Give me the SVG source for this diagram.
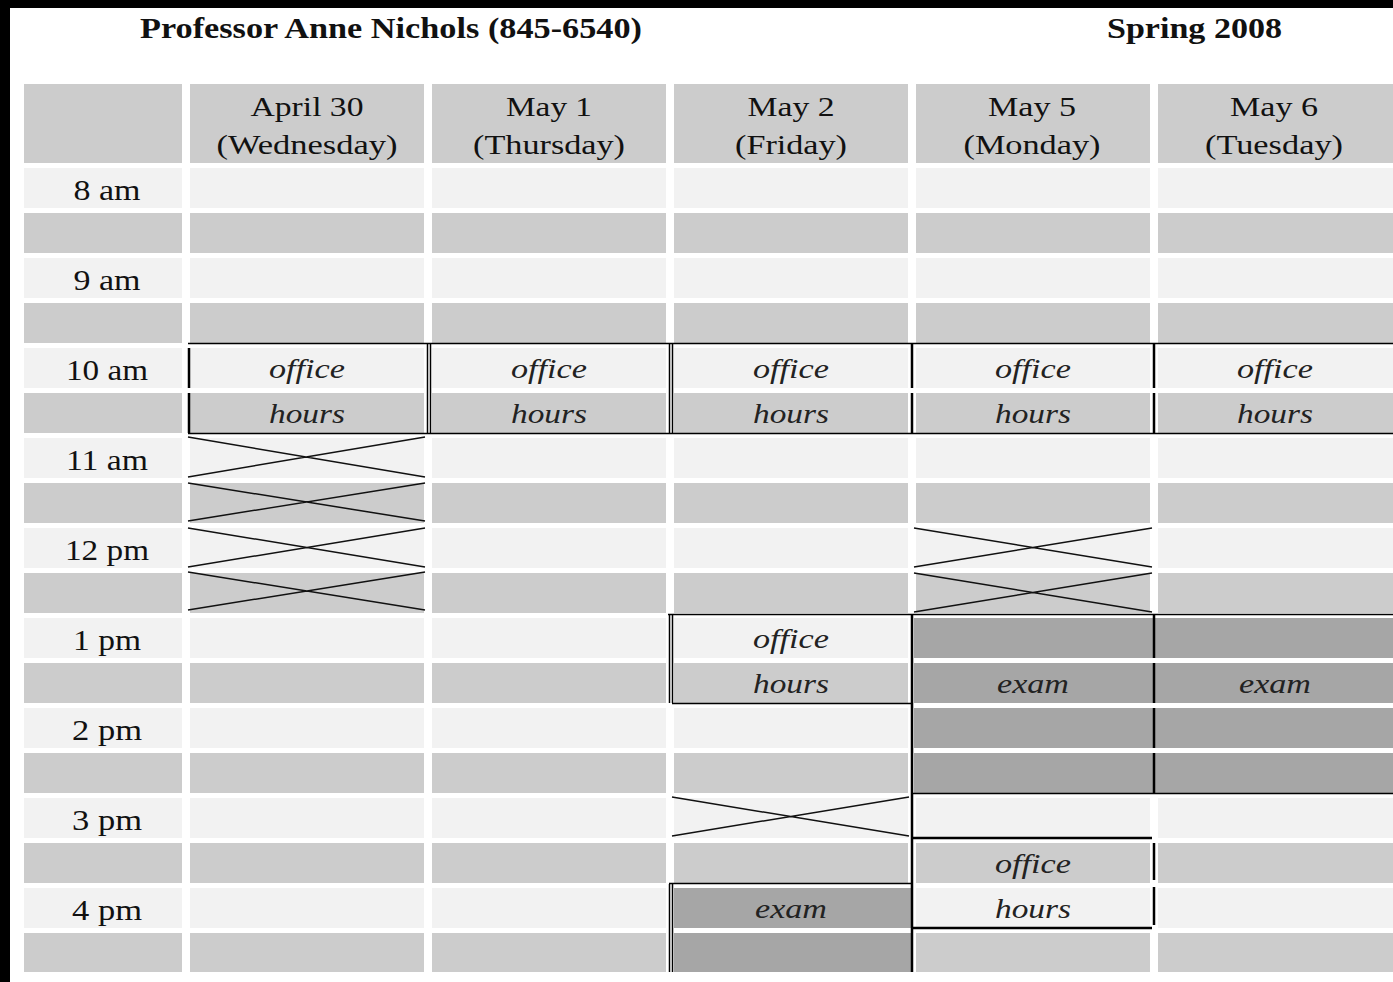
<svg xmlns="http://www.w3.org/2000/svg" width="1393" height="982" viewBox="0 0 1393 982">
<defs>
<style>
.l{fill:#f2f2f2}
.g{fill:#cccccc}
.d{fill:#a6a6a6}
.t{font-family:"Liberation Serif","Times New Roman",serif;fill:#111}
.title{font-size:30px;font-weight:bold}
.hd{font-size:28px;text-anchor:middle}
.tm{font-size:30px;text-anchor:middle}
.it{font-family:"Liberation Serif","Times New Roman",serif;font-style:italic;font-size:28px;text-anchor:middle;fill:#222}
.ln{stroke:#000;fill:none;stroke-width:1.5}
.th{stroke:#000;fill:none;stroke-width:2.5}
.x{stroke:#111;fill:none;stroke-width:1.5}
</style>
</defs>
<rect x="0" y="0" width="1393" height="982" fill="#ffffff"/>
<rect x="0" y="0" width="1393" height="8" fill="#000"/>
<rect x="0" y="0" width="10" height="982" fill="#000"/>

<g id="title">
<text class="t title" x="140" y="38" textLength="502" lengthAdjust="spacingAndGlyphs">Professor Anne Nichols (845-6540)</text>
<text class="t title" x="1107" y="38" textLength="175" lengthAdjust="spacingAndGlyphs">Spring 2008</text>
</g>

<g id="header">
<rect class="g" x="24" y="84" width="158" height="79"/>
<rect class="g" x="190" y="84" width="234" height="79"/>
<rect class="g" x="432" y="84" width="234" height="79"/>
<rect class="g" x="674" y="84" width="234" height="79"/>
<rect class="g" x="916" y="84" width="234" height="79"/>
<rect class="g" x="1158" y="84" width="235" height="79"/>
<text class="t hd" x="307" y="116" textLength="113" lengthAdjust="spacingAndGlyphs">April 30</text>
<text class="t hd" x="307" y="154" textLength="181" lengthAdjust="spacingAndGlyphs">(Wednesday)</text>
<text class="t hd" x="549" y="116" textLength="86" lengthAdjust="spacingAndGlyphs">May 1</text>
<text class="t hd" x="549" y="154" textLength="152" lengthAdjust="spacingAndGlyphs">(Thursday)</text>
<text class="t hd" x="791" y="116" textLength="87" lengthAdjust="spacingAndGlyphs">May 2</text>
<text class="t hd" x="791" y="154" textLength="112" lengthAdjust="spacingAndGlyphs">(Friday)</text>
<text class="t hd" x="1032" y="116" textLength="88" lengthAdjust="spacingAndGlyphs">May 5</text>
<text class="t hd" x="1032" y="154" textLength="137" lengthAdjust="spacingAndGlyphs">(Monday)</text>
<text class="t hd" x="1274" y="116" textLength="88" lengthAdjust="spacingAndGlyphs">May 6</text>
<text class="t hd" x="1274" y="154" textLength="138" lengthAdjust="spacingAndGlyphs">(Tuesday)</text>
</g>

<g id="grid">
<g class="l">
<rect x="24" y="168" width="158" height="40"/><rect x="190" y="168" width="234" height="40"/><rect x="432" y="168" width="234" height="40"/><rect x="674" y="168" width="234" height="40"/><rect x="916" y="168" width="234" height="40"/><rect x="1158" y="168" width="235" height="40"/>
<rect x="24" y="258" width="158" height="40"/><rect x="190" y="258" width="234" height="40"/><rect x="432" y="258" width="234" height="40"/><rect x="674" y="258" width="234" height="40"/><rect x="916" y="258" width="234" height="40"/><rect x="1158" y="258" width="235" height="40"/>
<rect x="24" y="348" width="158" height="40"/><rect x="190" y="348" width="234" height="40"/><rect x="432" y="348" width="234" height="40"/><rect x="674" y="348" width="234" height="40"/><rect x="916" y="348" width="234" height="40"/><rect x="1158" y="348" width="235" height="40"/>
<rect x="24" y="438" width="158" height="40"/><rect x="190" y="438" width="234" height="40"/><rect x="432" y="438" width="234" height="40"/><rect x="674" y="438" width="234" height="40"/><rect x="916" y="438" width="234" height="40"/><rect x="1158" y="438" width="235" height="40"/>
<rect x="24" y="528" width="158" height="40"/><rect x="190" y="528" width="234" height="40"/><rect x="432" y="528" width="234" height="40"/><rect x="674" y="528" width="234" height="40"/><rect x="916" y="528" width="234" height="40"/><rect x="1158" y="528" width="235" height="40"/>
<rect x="24" y="618" width="158" height="40"/><rect x="190" y="618" width="234" height="40"/><rect x="432" y="618" width="234" height="40"/><rect x="674" y="618" width="234" height="40"/>
<rect x="24" y="708" width="158" height="40"/><rect x="190" y="708" width="234" height="40"/><rect x="432" y="708" width="234" height="40"/><rect x="674" y="708" width="234" height="40"/>
<rect x="24" y="798" width="158" height="40"/><rect x="190" y="798" width="234" height="40"/><rect x="432" y="798" width="234" height="40"/><rect x="674" y="798" width="234" height="40"/><rect x="916" y="798" width="234" height="40"/><rect x="1158" y="798" width="235" height="40"/>
<rect x="24" y="888" width="158" height="40"/><rect x="190" y="888" width="234" height="40"/><rect x="432" y="888" width="234" height="40"/><rect x="916" y="888" width="234" height="40"/><rect x="1158" y="888" width="235" height="40"/>
</g>
<g class="g">
<rect x="24" y="213" width="158" height="40"/><rect x="190" y="213" width="234" height="40"/><rect x="432" y="213" width="234" height="40"/><rect x="674" y="213" width="234" height="40"/><rect x="916" y="213" width="234" height="40"/><rect x="1158" y="213" width="235" height="40"/>
<rect x="24" y="303" width="158" height="40"/><rect x="190" y="303" width="234" height="40"/><rect x="432" y="303" width="234" height="40"/><rect x="674" y="303" width="234" height="40"/><rect x="916" y="303" width="234" height="40"/><rect x="1158" y="303" width="235" height="40"/>
<rect x="24" y="393" width="158" height="40"/><rect x="190" y="393" width="234" height="40"/><rect x="432" y="393" width="234" height="40"/><rect x="674" y="393" width="234" height="40"/><rect x="916" y="393" width="234" height="40"/><rect x="1158" y="393" width="235" height="40"/>
<rect x="24" y="483" width="158" height="40"/><rect x="190" y="483" width="234" height="40"/><rect x="432" y="483" width="234" height="40"/><rect x="674" y="483" width="234" height="40"/><rect x="916" y="483" width="234" height="40"/><rect x="1158" y="483" width="235" height="40"/>
<rect x="24" y="573" width="158" height="40"/><rect x="190" y="573" width="234" height="40"/><rect x="432" y="573" width="234" height="40"/><rect x="674" y="573" width="234" height="40"/><rect x="916" y="573" width="234" height="40"/><rect x="1158" y="573" width="235" height="40"/>
<rect x="24" y="663" width="158" height="40"/><rect x="190" y="663" width="234" height="40"/><rect x="432" y="663" width="234" height="40"/><rect x="674" y="663" width="234" height="40"/>
<rect x="24" y="753" width="158" height="40"/><rect x="190" y="753" width="234" height="40"/><rect x="432" y="753" width="234" height="40"/><rect x="674" y="753" width="234" height="40"/>
<rect x="24" y="843" width="158" height="40"/><rect x="190" y="843" width="234" height="40"/><rect x="432" y="843" width="234" height="40"/><rect x="674" y="843" width="234" height="40"/><rect x="916" y="843" width="234" height="40"/><rect x="1158" y="843" width="235" height="40"/>
<rect x="24" y="933" width="158" height="39"/><rect x="190" y="933" width="234" height="39"/><rect x="432" y="933" width="234" height="39"/><rect x="916" y="933" width="234" height="39"/><rect x="1158" y="933" width="235" height="39"/>
</g>
<g class="d">
<rect x="914" y="618" width="479" height="40"/><rect x="914" y="663" width="479" height="40"/><rect x="914" y="708" width="479" height="40"/><rect x="914" y="753" width="479" height="40"/>
<rect x="674" y="888" width="238" height="40"/><rect x="674" y="933" width="238" height="39"/>
</g>
</g>

<g id="times">
<text class="t tm" x="107" y="200" textLength="67" lengthAdjust="spacingAndGlyphs">8 am</text>
<text class="t tm" x="107" y="290" textLength="67" lengthAdjust="spacingAndGlyphs">9 am</text>
<text class="t tm" x="107" y="380" textLength="82" lengthAdjust="spacingAndGlyphs">10 am</text>
<text class="t tm" x="107" y="470" textLength="82" lengthAdjust="spacingAndGlyphs">11 am</text>
<text class="t tm" x="107" y="560" textLength="84" lengthAdjust="spacingAndGlyphs">12 pm</text>
<text class="t tm" x="107" y="650" textLength="68" lengthAdjust="spacingAndGlyphs">1 pm</text>
<text class="t tm" x="107" y="740" textLength="70" lengthAdjust="spacingAndGlyphs">2 pm</text>
<text class="t tm" x="107" y="830" textLength="70" lengthAdjust="spacingAndGlyphs">3 pm</text>
<text class="t tm" x="107" y="920" textLength="70" lengthAdjust="spacingAndGlyphs">4 pm</text>
</g>

<g id="office-hours-10am">
<path class="ln" d="M188 343.5H1393M188 433.5H1393"/>
<path class="th" d="M189 348V388M189 393V433"/>
<path class="ln" d="M427.5 344V433M430.5 344V433M669.5 344V433M672.5 344V433"/>
<path class="th" d="M912 344V388M912 393V433M1154 344V388M1154 393V433"/>
<text class="it" x="307" y="378" textLength="76" lengthAdjust="spacingAndGlyphs">office</text>
<text class="it" x="307" y="423" textLength="76" lengthAdjust="spacingAndGlyphs">hours</text>
<text class="it" x="549" y="378" textLength="76" lengthAdjust="spacingAndGlyphs">office</text>
<text class="it" x="549" y="423" textLength="76" lengthAdjust="spacingAndGlyphs">hours</text>
<text class="it" x="791" y="378" textLength="76" lengthAdjust="spacingAndGlyphs">office</text>
<text class="it" x="791" y="423" textLength="76" lengthAdjust="spacingAndGlyphs">hours</text>
<text class="it" x="1033" y="378" textLength="76" lengthAdjust="spacingAndGlyphs">office</text>
<text class="it" x="1033" y="423" textLength="76" lengthAdjust="spacingAndGlyphs">hours</text>
<text class="it" x="1275" y="378" textLength="76" lengthAdjust="spacingAndGlyphs">office</text>
<text class="it" x="1275" y="423" textLength="76" lengthAdjust="spacingAndGlyphs">hours</text>
</g>

<g id="fri-office-hours-1pm">
<path class="ln" d="M668 614.5H1393M672 703.5H912"/>
<path class="ln" d="M669.5 615V703M672.5 615V703"/>
<text class="it" x="791" y="648" textLength="76" lengthAdjust="spacingAndGlyphs">office</text>
<text class="it" x="791" y="693" textLength="76" lengthAdjust="spacingAndGlyphs">hours</text>
</g>

<g id="exam-mon-tue">
<path class="ln" d="M912 793.5H1393"/>
<path class="th" d="M912 615V794M1154 615V658M1154 663V703M1154 708V748M1154 753V794"/>
<text class="it" x="1033" y="693" textLength="72" lengthAdjust="spacingAndGlyphs">exam</text>
<text class="it" x="1275" y="693" textLength="72" lengthAdjust="spacingAndGlyphs">exam</text>
</g>

<g id="mon-office-hours-330">
<path class="th" d="M913 838H1152M913 928H1152"/>
<path class="th" d="M912 794V972M1154 843V880M1154 887V925"/>
<text class="it" x="1033" y="873" textLength="76" lengthAdjust="spacingAndGlyphs">office</text>
<text class="it" x="1033" y="918" textLength="76" lengthAdjust="spacingAndGlyphs">hours</text>
</g>

<g id="fri-exam-4pm">
<path class="ln" d="M669 883.5H912"/>
<path class="ln" d="M669.5 884V972M672.5 884V972"/>
<text class="it" x="791" y="918" textLength="72" lengthAdjust="spacingAndGlyphs">exam</text>
</g>

<g id="connectors">
<path class="x" d="M188 437L425 477M188 477L425 437"/>
<path class="x" d="M188 483L425 521M188 521L425 483"/>
<path class="x" d="M188 528L425 567M188 567L425 528"/>
<path class="x" d="M188 572L425 610M188 610L425 572"/>
<path class="x" d="M914 528L1152 567M914 567L1152 528"/>
<path class="x" d="M914 573L1152 612M914 612L1152 573"/>
<path class="x" d="M672 797L909 836M672 836L909 797"/>
</g>
</svg>
